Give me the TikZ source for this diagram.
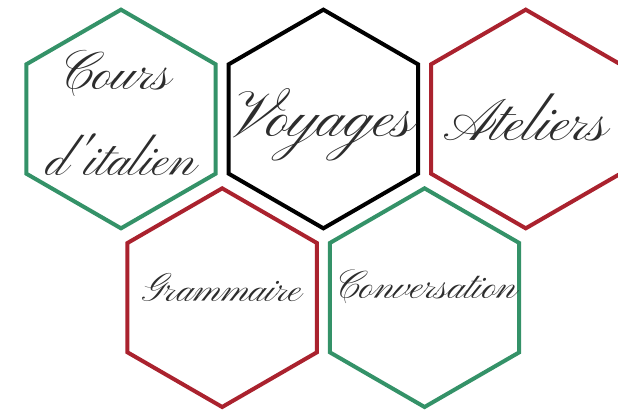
\documentclass[tikz,border=0pt]{standalone}
\usepackage{fontspec}
\usepackage{xcolor}
\usepackage{tikz}
\usetikzlibrary{positioning,shapes.geometric,calc}
\newfontfamily\scriptfnt{Pinyon Script}
\definecolor{hexgreen}{RGB}{52,146,104}
\definecolor{hexred}{RGB}{170,34,46}
\definecolor{inkgray}{RGB}{45,45,45}

\begin{document}
\begin{tikzpicture}[hexa/.style={regular polygon, regular polygon sides=6, shape border rotate=30, minimum size=164pt, inner sep=0pt, outer sep=0pt, line width=3pt, fill=white},
  word/.style={font=\scriptfnt\fontsize{41}{41}\selectfont, text=inkgray, align=center, inner sep=0pt},
  small/.style={word, font=\scriptfnt\fontsize{30}{30}\selectfont}]
\useasboundingbox (-90.75pt,-220.5pt) rectangle (372.75pt,89.25pt);
\node[hexa, draw=hexgreen] (cours) at (0,0) {};
\node[hexa, draw=black, right=9.75pt of cours] (voyages) {};
\node[hexa, draw=hexred, right=9.75pt of voyages] (ateliers) {};
\node[hexa, draw=hexred, yshift=-134pt] (gram) at ($(cours)!0.5!(voyages)$) {};
\node[hexa, draw=hexgreen, yshift=-134pt] (conv) at ($(voyages)!0.5!(ateliers)$) {};
% labels
\node[word] (t1) at ($(cours)+(-5pt,34pt)$) {Cours};
\node[word, font=\scriptfnt\fontsize{39}{39}\selectfont] (t2) at ($(cours)+(0,-27pt)$) {d'italien};
\node[word, font=\scriptfnt\fontsize{48}{48}\selectfont] (t3) at ($(voyages)+(0,-4pt)$) {Voyages};
\node[word, font=\scriptfnt\fontsize{45}{45}\selectfont] (t4) at ($(ateliers)+(0,1pt)$) {Ateliers};
\node[small] (t5) at ($(gram)+(0,8pt)$) {Grammaire};
\node[small] (t6) at ($(conv)+(1pt,8pt)$) {Conversation};
\end{tikzpicture}
\end{document}
